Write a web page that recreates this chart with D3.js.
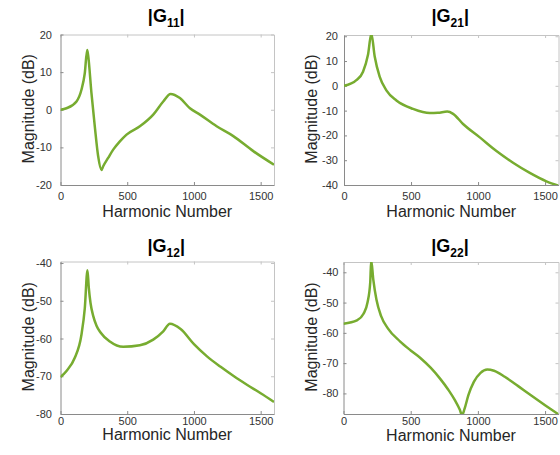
<!DOCTYPE html>
<html>
<head>
<meta charset="utf-8">
<script src="https://cdn.jsdelivr.net/npm/d3@7/dist/d3.min.js"></script>
<style>
    body { margin: 0; background: #fff; }
    text { font-family: 'Liberation Sans', Arial, Helvetica, sans-serif; }
</style>
</head>
<body>
<svg id="chart" width="560" height="455"></svg>
<script>
// values: harmonic number -> magnitude (dB)
const g11Harmonic = [0, 45, 120, 157, 182, 200, 207, 232, 257, 282, 307, 320, 357, 395, 445, 495, 595, 695, 770, 825, 895, 970, 1045, 1170, 1295, 1445, 1600]
const g11Mag = [0, 0.4, 2.2, 5.3, 9.7, 15.9, 14.5, 4.4, -4.4, -12.3, -16.0, -15.0, -12.8, -10.6, -8.4, -6.6, -4.4, -1.3, 2.2, 4.2, 3.1, 0.4, -1.3, -4.4, -7.0, -11.0, -14.6]

const g21Harmonic = [0, 92, 142, 179, 204, 229, 266, 316, 391, 515, 640, 700, 770, 814, 888, 1013, 1137, 1261, 1386, 1510, 1600]
const g21Mag = [0, 2.3, 5.7, 12.5, 21.0, 11.8, 3.7, -1.8, -5.9, -9.3, -11.0, -10.9, -10.4, -11.3, -15.4, -20.8, -26.3, -31.0, -35.1, -38.5, -40.3]

const g12Harmonic = [0, 45, 107, 157, 182, 202, 212, 225, 245, 270, 300, 370, 470, 595, 695, 770, 820, 900, 1000, 1100, 1200, 1300, 1400, 1500, 1600]
const g12Mag = [-70.2, -68.6, -65.1, -59.0, -52.0, -41.9, -46.5, -50.6, -54.0, -56.6, -58.4, -60.8, -62.2, -61.8, -60.3, -58.1, -56.1, -57.5, -61.5, -64.8, -67.5, -70.0, -72.3, -74.5, -76.8]

const g22Harmonic = [0, 100, 149, 179, 199, 206, 222, 245, 280, 330, 420, 500, 570, 650, 720, 780, 830, 865, 882, 900, 930, 970, 1020, 1070, 1120, 1200, 1300, 1400, 1500, 1600]
const g22Mag = [-57.0, -55.9, -53.7, -49.9, -43.3, -36.0, -42.5, -49.0, -54.5, -58.5, -62.8, -65.8, -68.2, -71.6, -75.2, -78.8, -82.3, -85.3, -87.2, -85.2, -80.5, -76.2, -73.2, -72.1, -72.5, -74.5, -77.6, -80.8, -83.9, -86.9]

const xTicks = [0, 500, 1000, 1500]
const xDomain = [0, 1600]
const g11Domain = [-20, 20], g11Ticks = [-20, -10, 0, 10, 20]
const g21Domain = [-40, 20.5], g21Ticks = [-40, -30, -20, -10, 0, 10, 20]
const g12Domain = [-80, -39.6], g12Ticks = [-80, -70, -60, -50, -40]
const g22Domain = [-86.8, -36.6], g22Ticks = [-80, -70, -60, -50, -40]

function main() {
    let svg = d3.select('#chart')
    let green = '#77ac30'

    let panels = [
        {id: '11', h: g11Harmonic, v: g11Mag, domain: g11Domain, ticks: g11Ticks,
            left: 60.5, right: 274, top: 34.5, bottom: 185, pad: 8.5, xTickY: 200, xLabelY: 217, titleY: 21.7, yLabelX: 34},
        {id: '21', h: g21Harmonic, v: g21Mag, domain: g21Domain, ticks: g21Ticks,
            left: 344, right: 558.5, top: 35, bottom: 185, pad: 6, xTickY: 200, xLabelY: 217, titleY: 21.7, yLabelX: 317},
        {id: '12', h: g12Harmonic, v: g12Mag, domain: g12Domain, ticks: g12Ticks,
            left: 60.5, right: 274, top: 261.5, bottom: 414, pad: 8.5, xTickY: 425, xLabelY: 440, titleY: 251.7, yLabelX: 34},
        {id: '22', h: g22Harmonic, v: g22Mag, domain: g22Domain, ticks: g22Ticks,
            left: 343.5, right: 558.5, top: 262, bottom: 414, pad: 5, xTickY: 425, xLabelY: 441, titleY: 251.7, yLabelX: 317}
    ]

    // matlab style labels: plain hyphen, no thousands separator
    let fmt = d => String(d)

    panels.forEach(function (p, i) {
        let x = d3.scaleLinear().domain(xDomain).range([p.left, p.right]),
            y = d3.scaleLinear().domain(p.domain).range([p.bottom, p.top])
        let g = svg.append('g').attr('class', 'panel')

        g.append('clipPath').attr('id', 'clip' + i)
            .append('rect')
            .attr('x', p.left).attr('y', p.top)
            .attr('width', p.right - p.left).attr('height', p.bottom - p.top)

        // box: top and right sides drawn lighter
        let tick = 3
        g.append('g')
            .attr('transform', 'translate(0,' + p.top + ')')
            .call(d3.axisTop(x).tickValues(xTicks).tickSize(-tick).tickSizeOuter(0).tickFormat(''))
            .call(a => a.selectAll('path,line').attr('stroke', '#c4c4c4'))
        g.append('g')
            .attr('transform', 'translate(' + p.right + ',0)')
            .call(d3.axisRight(y).tickValues(p.ticks).tickSize(-tick).tickSizeOuter(0).tickFormat(''))
            .call(a => a.selectAll('path,line').attr('stroke', '#c4c4c4'))

        let xAxis = g.append('g')
            .attr('transform', 'translate(0,' + p.bottom + ')')
            .call(d3.axisBottom(x).tickValues(xTicks).tickFormat(fmt).tickSize(-tick).tickSizeOuter(0).tickPadding(0))
        xAxis.selectAll('path,line').attr('stroke', '#8a8a8a')
        xAxis.selectAll('text')
            .attr('y', p.xTickY - p.bottom).attr('dy', 0)
            .attr('fill', '#333').style('font-size', '11px')

        let yAxis = g.append('g')
            .attr('transform', 'translate(' + p.left + ',0)')
            .call(d3.axisLeft(y).tickValues(p.ticks).tickFormat(fmt).tickSize(-tick).tickSizeOuter(0).tickPadding(p.pad))
        yAxis.selectAll('path,line').attr('stroke', '#8a8a8a')
        yAxis.selectAll('text')
            .attr('fill', '#333').style('font-size', '11px')

        let line = d3.line()
            .curve(d3.curveMonotoneX)
            .x((d, k) => x(p.h[k]))
            .y(d => y(d))

        g.append('path')
            .attr('clip-path', 'url(#clip' + i + ')')
            .attr('d', line(p.v))
            .attr('fill', 'none')
            .attr('stroke', green)
            .attr('stroke-width', 2.5)
            .attr('stroke-linejoin', 'round')

        let cx = (p.left + p.right) / 2
        let title = g.append('text')
            .attr('x', cx - 1)
            .attr('y', p.titleY)
            .attr('text-anchor', 'middle')
            .style('font-size', '18px')
            .style('font-weight', 'bold')
            .attr('fill', '#000')
        title.append('tspan').text('|G')
        title.append('tspan').attr('dy', 5).style('font-size', '12px').text(p.id)
        title.append('tspan').attr('dy', -5).text('|')

        g.append('text')
            .attr('x', cx)
            .attr('y', p.xLabelY)
            .attr('text-anchor', 'middle')
            .attr('fill', '#262626')
            .style('font-size', '16px')
            .text('Harmonic Number')

        g.append('text')
            .attr('transform', 'translate(' + p.yLabelX + ',' + ((p.top + p.bottom) / 2 - 1) + ') rotate(-90)')
            .attr('text-anchor', 'middle')
            .attr('fill', '#262626')
            .style('font-size', '16px')
            .text('Magnitude (dB)')
    })
}

main()
</script>
</body>
</html>
